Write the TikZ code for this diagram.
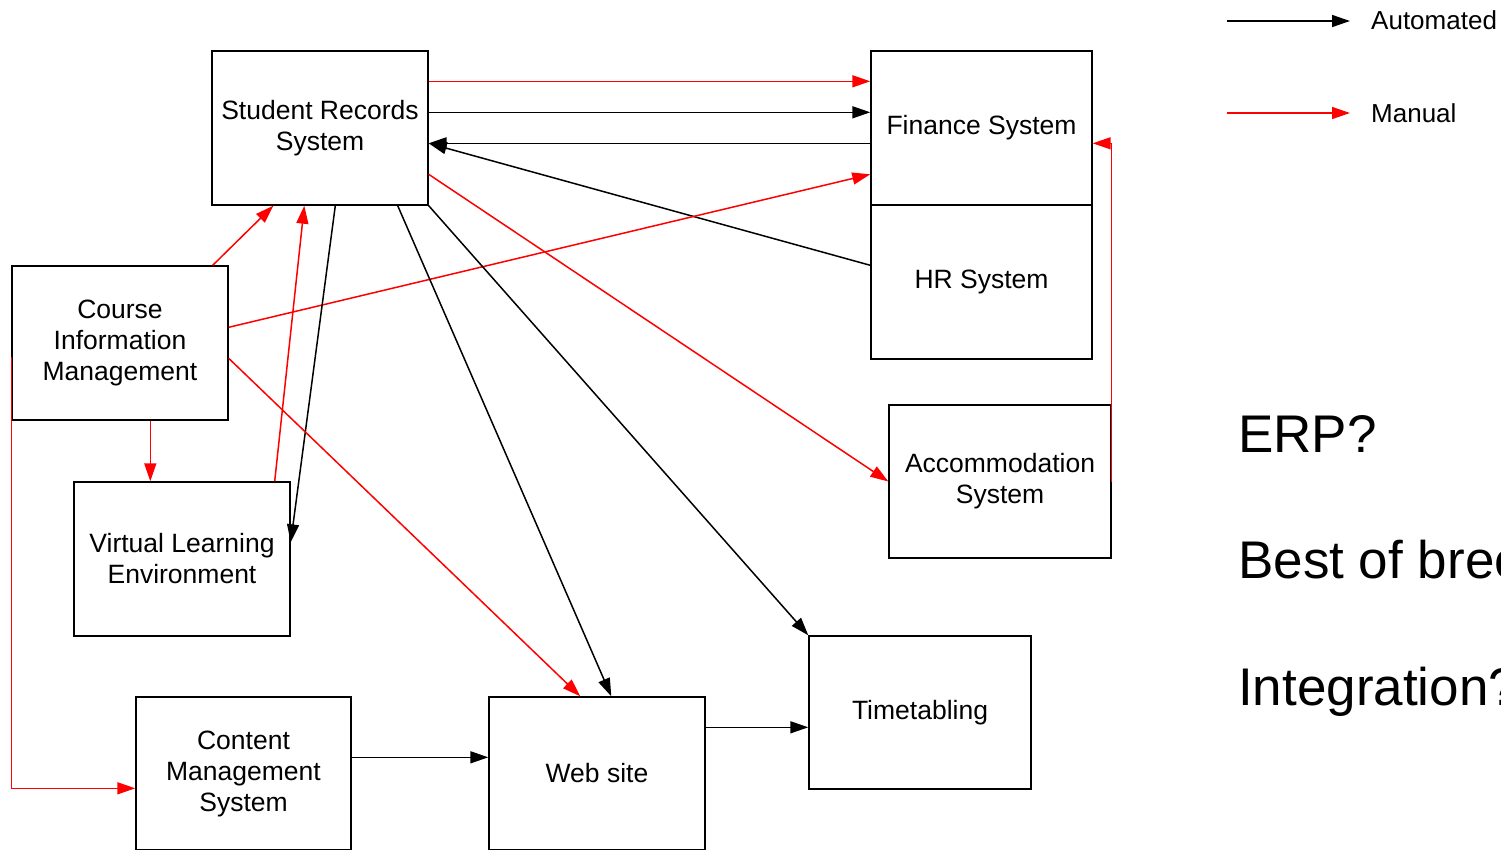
\documentclass[tikz,border=0pt]{standalone}
\usepackage{fontspec}
\setmainfont{Liberation Sans}
\usetikzlibrary{arrows.meta}
\definecolor{manualred}{RGB}{255,0,0}
\begin{document}
\begin{tikzpicture}[x=1pt,y=-1pt,
  sysbox/.style={draw=black,line width=1.4pt,inner sep=0pt,align=center,
    font=\fontsize{26.5}{31}\selectfont},
  auto/.style={draw=black,line width=1.5pt,-{Triangle[length=18pt,width=12pt]}},
  manual/.style={draw=manualred,line width=1.5pt,-{Triangle[length=18pt,width=12pt]},color=manualred},
  bigtext/.style={anchor=base west,inner sep=0pt,font=\fontsize{53}{60}\selectfont},
  legtext/.style={anchor=base west,inner sep=0pt,font=\fontsize{26}{31}\selectfont}]
\clip (0,0) rectangle (1501,849);
\fill[white] (0,0) rectangle (1501,849);

\node[sysbox,minimum width=216pt,minimum height=154pt] (srs) at (320,128) {Student Records\\System};
\node[sysbox,minimum width=221pt,minimum height=154pt] (fin) at (981.5,128) {Finance System};
\node[sysbox,minimum width=221pt,minimum height=154pt] (hr) at (981.5,282) {HR System};
\node[sysbox,minimum width=216pt,minimum height=154pt] (cim) at (120,343) {Course\\Information\\Management};
\node[sysbox,minimum width=222pt,minimum height=153pt] (acc) at (1000,481.5) {Accommodation\\System};
\node[sysbox,minimum width=216pt,minimum height=154pt] (vle) at (182,559) {Virtual Learning\\Environment};
\node[sysbox,minimum width=222pt,minimum height=153pt] (tt) at (920,712.5) {Timetabling};
\node[sysbox,minimum width=215pt,minimum height=153pt] (cms) at (243.5,773.5) {Content\\Management\\System};
\node[sysbox,minimum width=216pt,minimum height=153pt] (web) at (597,773.5) {Web site};

% connectors
\draw[manual] ([yshift=-31pt]srs.north east) -- ([yshift=-31pt]fin.north west);
\draw[auto] ([yshift=-62pt]srs.north east) -- ([yshift=-62pt]fin.north west);
\draw[auto] ([yshift=-93pt]fin.north west) -- ([yshift=-93pt]srs.north east);
\draw[auto] ([yshift=-61pt]hr.north west) -- ([yshift=-93pt]srs.north east);
\draw[manual] ([yshift=-62pt]cim.north east) -- ([yshift=-124pt]fin.north west);
\draw[manual] ([yshift=-124pt]srs.north east) -- (acc.west);
\draw[manual] (acc.east) |- ([yshift=-93pt]fin.north east);
\draw[manual] ([xshift=-16pt]cim.north east) -- ([xshift=62pt]srs.south west);
\draw[manual] ([xshift=-16pt]vle.north east) -- ([xshift=93pt]srs.south west);
\draw[auto] ([xshift=124pt]srs.south west) -- ([yshift=-61pt]vle.north east);
\draw[auto] ([xshift=-31pt]srs.south east) -- ([xshift=123pt]web.north west);
\draw[auto] (srs.south east) -- (tt.north west);
\draw[manual] ([yshift=-93pt]cim.north east) -- ([xshift=92pt]web.north west);
\draw[manual] ([xshift=139pt]cim.south west) -- ([xshift=77pt]vle.north west);
\draw[manual] ([yshift=-92pt]cim.north west) |- ([yshift=-92pt]cms.north west);
\draw[auto] ([yshift=-61pt]cms.north east) -- ([yshift=-61pt]web.north west);
\draw[auto] ([yshift=-31pt]web.north east) -- ([yshift=-92pt]tt.north west);

% legend
\coordinate (la1) at (1227,21);
\coordinate (lb1) at (1350,21);
\coordinate (la2) at (1227,113);
\coordinate (lb2) at (1350,113);
\draw[auto] (la1) -- (lb1);
\draw[manual] (la2) -- (lb2);
\node[legtext] (lt1) at (1371,29) {Automated};
\node[legtext] (lt2) at (1371,122) {Manual};

% right-hand questions (cut off at the right edge, as in the original)
\node[bigtext] (q1) at (1238,452) {ERP?};
\node[bigtext] (q2) at (1238,578) {Best of breed?};
\node[bigtext] (q3) at (1238,705) {Integration?};
\end{tikzpicture}
\end{document}
